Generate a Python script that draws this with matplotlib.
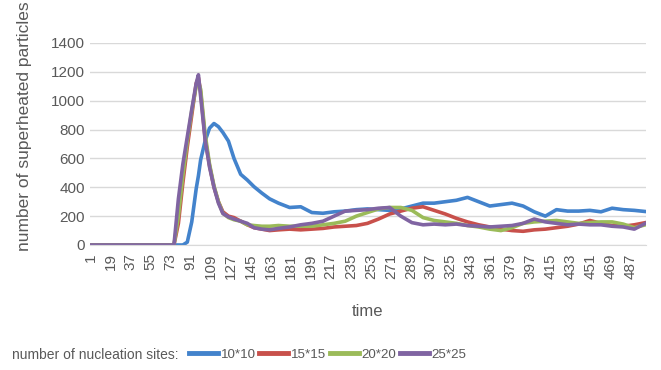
import matplotlib
matplotlib.use("Agg")
import matplotlib.pyplot as plt
import numpy as np

plt.rcParams['font.family'] = ['Liberation Sans', 'DejaVu Sans']

TEXT = '#595959'
GRID = '#D9D9D9'

# sampled time steps (category positions 1..500)
time = [1, 70, 76, 80, 84, 88, 92, 96, 98, 100, 104, 108, 112, 116, 120, 125,
        130, 136, 142, 148, 155, 162, 170, 180, 190, 200, 210, 220, 230, 240,
        250, 260, 270, 280, 290, 300, 310, 320, 330, 340, 350, 360, 370, 380,
        390, 400, 410, 420, 430, 440, 450, 460, 470, 480, 490, 500]

sites_10 = [0, 0, 0, 0, 0, 20, 160, 390, 480, 590, 720, 810, 842, 820, 780, 720,
            600, 490, 450, 404, 360, 320, 290, 260, 265, 225, 220, 230, 235, 245,
            250, 245, 240, 250, 270, 290, 290, 300, 310, 330, 300, 270, 280, 290,
            270, 230, 200, 245, 235, 235, 240, 230, 255, 245, 240, 232]
sites_15 = [0, 0, 0, 150, 430, 680, 900, 1120, 1160, 1060, 740, 550, 400, 300, 230, 200,
            190, 165, 140, 120, 110, 100, 105, 110, 105, 110, 115, 125, 130, 135,
            150, 180, 215, 235, 255, 265, 240, 215, 185, 160, 140, 125, 110, 100,
            95, 105, 110, 120, 130, 145, 170, 150, 135, 130, 140, 155]
sites_20 = [0, 0, 0, 200, 480, 720, 930, 1100, 1130, 1080, 770, 560, 410, 300, 220, 190,
            175, 165, 140, 135, 130, 130, 135, 130, 130, 130, 140, 150, 165, 200,
            225, 250, 260, 260, 240, 190, 170, 160, 150, 135, 125, 110, 100, 120,
            150, 160, 165, 170, 160, 150, 155, 160, 160, 145, 120, 140]
sites_25 = [0, 0, 0, 320, 560, 750, 940, 1120, 1180, 1030, 730, 540, 400, 290, 218, 195,
            180, 165, 150, 120, 110, 105, 115, 125, 140, 150, 165, 200, 235, 240,
            245, 255, 260, 200, 155, 140, 145, 140, 145, 135, 130, 125, 130, 135,
            150, 180, 160, 150, 140, 145, 140, 140, 130, 125, 110, 150]

series = [
    ('10*10', sites_10, '#4383CC'),
    ('15*15', sites_15, '#C8504B'),
    ('20*20', sites_20, '#9BBB59'),
    ('25*25', sites_25, '#8064A2'),
]

tick_pos = list(range(1, 501, 18))

fig = plt.figure(figsize=(6.61, 3.70), dpi=100)
ax = fig.add_axes([90 / 661, 1 - 245 / 370, 556 / 661, 202 / 370])

for name, vals, color in series:
    ax.plot(time, vals, color=color, lw=2.6, label=name, solid_joinstyle='round')

ax.set_xlim(0.5, 500.5)
ax.set_ylim(0, 1400)
ax.set_yticks(np.arange(0, 1401, 200))
ax.set_xticks(tick_pos)
ax.set_xticklabels([str(t) for t in tick_pos], rotation=90)
ax.tick_params(axis='both', length=0, colors=TEXT, labelsize=11)
ax.tick_params(axis='x', pad=6)
ax.grid(axis='y', color=GRID, lw=1)
ax.set_axisbelow(True)
for s in ['top', 'right', 'left']:
    ax.spines[s].set_visible(False)
ax.spines['bottom'].set_color(GRID)

ax.set_xlabel('time', color=TEXT, fontsize=12, labelpad=18)
ax.set_ylabel('number of superheated particles', color=TEXT, fontsize=12.5)
ax.yaxis.set_label_coords(-0.104, 0.59)

fig.text(12 / 661, 1 - 355 / 370, 'number of nucleation sites:', color=TEXT,
         fontsize=10, va='center', ha='left')
leg = fig.legend(loc='center left', bbox_to_anchor=(182 / 661, 1 - 355 / 370),
                 ncol=4, frameon=False, fontsize=9.6, handlelength=2.2,
                 handletextpad=0.2, columnspacing=0.25, borderpad=0)
for line in leg.get_lines():
    line.set_linewidth(3.5)
for txt in leg.get_texts():
    txt.set_color(TEXT)

fig.savefig('out.png', dpi=100)
